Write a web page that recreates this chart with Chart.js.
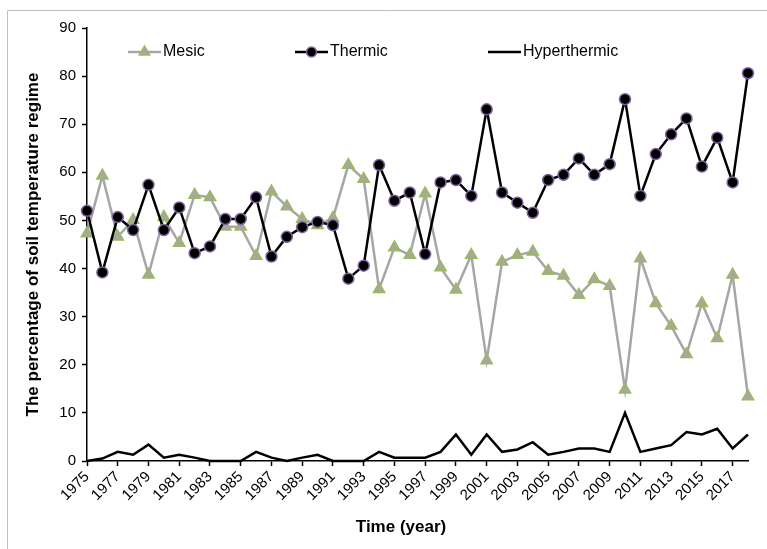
<!DOCTYPE html>
<html>
<head>
<meta charset="utf-8">
<script src="https://cdn.jsdelivr.net/npm/chart.js@4.4.0/dist/chart.umd.min.js"></script>
<style>
  html, body { margin: 0; padding: 0; background: #fff; }
  #contenedor { width: 767px; height: 549px; }
</style>
</head>
<body>
<div id="contenedor"><canvas id="graficoSuelos" width="767" height="549"></canvas></div>
<script>
// Datos (porcentaje por régimen de temperatura del suelo)
const years = [1975, 1976, 1977, 1978, 1979, 1980, 1981, 1982, 1983, 1984,
               1985, 1986, 1987, 1988, 1989, 1990, 1991, 1992, 1993, 1994,
               1995, 1996, 1997, 1998, 1999, 2000, 2001, 2002, 2003, 2004,
               2005, 2006, 2007, 2008, 2009, 2010, 2011, 2012, 2013, 2014,
               2015, 2016, 2017, 2018];

const mesic = [47.3, 59.3, 46.6, 50.1, 38.7, 50.7, 45.3, 55.3, 54.8, 48.7,
               48.7, 42.6, 56.0, 52.9, 50.3, 49.0, 50.5, 61.5, 58.6, 35.7,
               44.4, 42.8, 55.6, 40.2, 35.6, 42.8, 20.9, 41.4, 42.8, 43.5,
               39.5, 38.5, 34.5, 37.8, 36.4, 14.8, 42.1, 32.8, 28.1, 22.2,
               32.8, 25.5, 38.7, 13.4];

const thermic = [52.0, 39.2, 50.7, 48.0, 57.4, 48.0, 52.7, 43.2, 44.6, 50.3,
                 50.3, 54.8, 42.5, 46.6, 48.6, 49.7, 49.0, 37.9, 40.6, 61.5,
                 54.1, 55.8, 43.0, 57.9, 58.4, 55.1, 73.1, 55.8, 53.7, 51.6,
                 58.4, 59.5, 62.9, 59.5, 61.7, 75.2, 55.1, 63.8, 67.9, 71.2,
                 61.2, 67.2, 57.9, 80.6];

const hyperthermic = [0, 0.5, 1.9, 1.3, 3.4, 0.7, 1.3, 0.7, 0, 0,
                      0, 1.9, 0.7, 0, 0.7, 1.3, 0, 0, 0, 1.9,
                      0.7, 0.7, 0.7, 1.9, 5.5, 1.3, 5.5, 1.9, 2.4, 3.9,
                      1.3, 1.9, 2.6, 2.6, 1.9, 10, 1.9, 2.6, 3.3, 6.0,
                      5.5, 6.7, 2.6, 5.5];

const yTicks = { min: 0, max: 90, step: 10 };

const FUENTE = "'Liberation Sans', Arial, sans-serif";

// Marco gris del gráfico (solo bordes superior e izquierdo visibles)
const marco = {
    id: 'marco',
    beforeDraw(chart) {
        const ctx = chart.ctx;
        ctx.save();
        ctx.strokeStyle = '#bfbfbf';
        ctx.lineWidth = 1;
        ctx.beginPath();
        ctx.moveTo(7.5, chart.height);
        ctx.lineTo(7.5, 10.5);
        ctx.lineTo(chart.width, 10.5);
        ctx.stroke();
        ctx.restore();
    }
};

// Leyenda dentro del área del gráfico y título del eje X (centrado en el gráfico entero)
const leyenda = {
    id: 'leyenda',
    afterDraw(chart) {
        const ctx = chart.ctx;
        const y = 52;
        const posiciones = [128, 295, 488]; // inicio de cada entrada
        ctx.save();
        chart.data.datasets.forEach((ds, i) => {
            const x0 = posiciones[i];
            const x1 = x0 + 33;
            ctx.strokeStyle = ds.borderColor;
            ctx.lineWidth = ds.borderWidth;
            ctx.beginPath();
            ctx.moveTo(x0, y);
            ctx.lineTo(x1, y);
            ctx.stroke();
            if (ds.pointRadius > 0) {
                ctx.fillStyle = ds.pointBackgroundColor;
                ctx.strokeStyle = ds.pointBorderColor;
                ctx.lineWidth = ds.pointBorderWidth;
                Chart.helpers.drawPoint(ctx, {
                    pointStyle: ds.pointStyle,
                    radius: ds.pointRadius - 0.5,
                    rotation: 0,
                    borderWidth: ds.pointBorderWidth
                }, (x0 + x1) / 2, y);
            }
            ctx.fillStyle = '#000';
            ctx.font = '16px ' + FUENTE;
            ctx.textBaseline = 'middle';
            ctx.textAlign = 'left';
            ctx.fillText(ds.label, x1 + 2, y);
        });

        ctx.fillStyle = '#000';
        ctx.font = 'bold 17px ' + FUENTE;
        ctx.textAlign = 'center';
        ctx.textBaseline = 'middle';
        ctx.fillText('Time (year)', 401, 527);
        ctx.restore();
    }
};

const datos = {
    labels: years,
    datasets: [
        {
            label: 'Mesic',
            data: mesic,
            borderColor: '#a6a6a6',
            borderWidth: 2.5,
            pointStyle: 'triangle',
            pointRadius: 6.5,
            pointBackgroundColor: '#a6a6a6',
            pointBorderColor: '#9bbb59',
            pointBorderWidth: 1.5,
            tension: 0,
            clip: false,
            order: 2
        },
        {
            label: 'Thermic',
            data: thermic,
            borderColor: '#000000',
            borderWidth: 2.5,
            pointStyle: 'circle',
            pointRadius: 5.5,
            pointBackgroundColor: '#000000',
            pointBorderColor: '#8064a2',
            pointBorderWidth: 1.5,
            tension: 0,
            clip: false,
            order: 1
        },
        {
            label: 'Hyperthermic',
            data: hyperthermic,
            borderColor: '#000000',
            borderWidth: 2.5,
            pointRadius: 0,
            tension: 0,
            clip: false,
            order: 0
        }
    ]
};

const configuracion = {
    type: 'line',
    data: datos,
    options: {
        responsive: false,
        animation: false,
        devicePixelRatio: 1,
        layout: { padding: { top: 28, right: 19, left: 0, bottom: 0 } },
        plugins: {
            legend: { display: false },
            tooltip: { enabled: false }
        },
        scales: {
            x: {
                type: 'category',
                offset: false,
                afterFit: s => { s.height = 88; },
                border: { color: '#000', width: 1.5 },
                grid: {
                    drawOnChartArea: false,
                    tickLength: 5,
                    tickWidth: 1.5,
                    tickColor: c => (c.index % 2 === 0 ? '#000' : 'rgba(0,0,0,0)')
                },
                ticks: {
                    autoSkip: false,
                    maxRotation: 45,
                    minRotation: 45,
                    padding: 2,
                    color: '#000',
                    font: { family: FUENTE, size: 15 },
                    callback: (v, i) => (i % 2 === 0 ? years[i] : '')
                },
                title: { display: false }
            },
            y: {
                min: yTicks.min,
                max: yTicks.max,
                afterFit: s => { s.width = 87; },
                border: { color: '#000', width: 1.5 },
                grid: {
                    drawOnChartArea: false,
                    tickLength: 5,
                    tickWidth: 1.5,
                    tickColor: '#000'
                },
                ticks: {
                    stepSize: yTicks.step,
                    padding: 6,
                    color: '#000',
                    font: { family: FUENTE, size: 15 }
                },
                title: {
                    display: true,
                    text: 'The percentage of soil temperature regime',
                    color: '#000',
                    font: { family: FUENTE, size: 17, weight: 'bold' },
                    padding: { top: 23, bottom: 0 }
                }
            }
        }
    },
    plugins: [marco, leyenda]
};

const ctx = document.getElementById('graficoSuelos').getContext('2d');
new Chart(ctx, configuracion);
</script>
</body>
</html>
